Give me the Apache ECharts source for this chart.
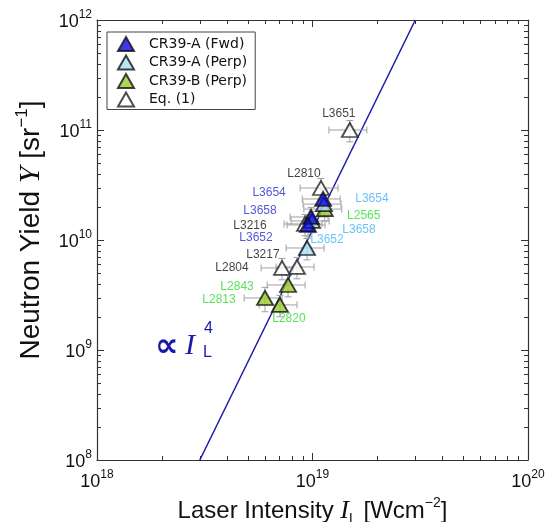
<!DOCTYPE html>
<html><head><meta charset="utf-8">
<script src="https://cdn.jsdelivr.net/npm/echarts@6/dist/echarts.min.js"></script>
<style>html,body{margin:0;padding:0;background:#fff}#c{width:551px;height:522px}</style>
</head><body><div id="c"></div>
<script>
// ---- data ----
const fwdNames = ['L3654','L3658','L3652'];
const fwdI = [1.12e19, 9.84e18, 9.53e18];
const fwdY = [2.36e10, 1.62e10, 1.37e10];
const perpANames = ['L3654','L3658','L3652'];
const perpAI = [1.13e19, 9.95e18, 9.43e18];
const perpAY = [2.12e10, 1.49e10, 8.46e9];
const perpBNames = ['L2565','L2843','L2813','L2820'];
const perpBI = [1.14e19, 7.7e18, 6.02e18, 7.06e18];
const perpBY = [1.91e10, 3.9e9, 2.97e9, 2.57e9];
const eqNames = ['L3651','L2810','L3216','L3217','L2804'];
const eqI = [1.49e19, 1.095e19, 9.23e18, 8.47e18, 7.22e18];
const eqY = [1.0e11, 2.97e10, 1.40e10, 5.69e9, 5.57e9];
// relative uncertainties (fraction)
const fwdXErr = [0.2,0.2,0.2], fwdYErr = [0.22,0.22,0.22];
const perpAXErr = [0.2,0.2,0.2], perpAYErr = [0.22,0.22,0.22];
const perpBXErr = [0.2,0.2,0.2,0.2], perpBYErr = [0.22,0.22,0.25,0.22];
const eqXErr = [0.2,0.2,0.2,0.2,0.2], eqYErr = [0.22,0.22,0.22,0.22,0.22];
// fit line Y ∝ I^4 endpoints
const fitI = [3.0e18, 3.0e19];
const fitY = [1e8, 1e12];
const seriesNames = ['CR39-A (Fwd)','CR39-A (Perp)','CR39-B (Perp)','Eq. (1)'];
const xTicks = [1e18, 1e19, 1e20];
const yTicks = [1e8, 1e9, 1e10, 1e11, 1e12];

// ---- styles / layout ----
const labelOffsets = {
  fwd: [[-54,-6],[-51,-6],[-52,13]],
  perpA: [[48,-5],[47,9],[20,-8]],
  perpB: [[39,7],[-51,2],[-46,2],[9,14]],
  eq: [[-11,-16],[-17,-14],[-55,2],[-34,-12],[-50,0]]
};
const FONT = 'Liberation Sans';
const chart = echarts.init(document.getElementById('c'), null, {renderer:'canvas'});

function pts(I, Y, names, offs, color) {
  return I.map((v,i)=>({value:[v, Y[i]], name:names[i],
    label:{show:true, formatter:names[i], position:'inside', offset:offs[i], color:color,
      fontSize:12, fontFamily:'Liberation Sans'}}));
}
function errData(I, Y, xe, ye) {
  return I.map((v,i)=>[v, Y[i], v*(1-xe[i]), v*(1+xe[i]), Y[i]*(1-ye[i]), Y[i]*(1+ye[i])]);
}
function errRender(params, api) {
  const c = api.coord([api.value(0), api.value(1)]);
  const xl = api.coord([api.value(2), api.value(1)])[0];
  const xh = api.coord([api.value(3), api.value(1)])[0];
  const yl = api.coord([api.value(0), api.value(4)])[1];
  const yh = api.coord([api.value(0), api.value(5)])[1];
  const st = {stroke:'#a0a0a0', lineWidth:1};
  const cap = 3.5;
  return {type:'group', children:[
    {type:'line', shape:{x1:xl,y1:c[1],x2:xh,y2:c[1]}, style:st},
    {type:'line', shape:{x1:xl,y1:c[1]-cap,x2:xl,y2:c[1]+cap}, style:st},
    {type:'line', shape:{x1:xh,y1:c[1]-cap,x2:xh,y2:c[1]+cap}, style:st},
    {type:'line', shape:{x1:c[0],y1:yl,x2:c[0],y2:yh}, style:st},
    {type:'line', shape:{x1:c[0]-cap,y1:yl,x2:c[0]+cap,y2:yl}, style:st},
    {type:'line', shape:{x1:c[0]-cap,y1:yh,x2:c[0]+cap,y2:yh}, style:st}
  ]};
}
// minor ticks (2..9 per decade)
const minorX = [], minorY = [];
for (let d=0; d<xTicks.length-1; d++) for (let m=2;m<=9;m++) minorX.push([xTicks[d]*m, yTicks[0]]);
for (let d=0; d<yTicks.length-1; d++) for (let m=2;m<=9;m++) minorY.push([xTicks[0], yTicks[d]*m]);
const minorData = minorX.map(p=>[p[0],p[1],0]).concat(minorY.map(p=>[p[0],p[1],1]));
function minorRender(params, api) {
  const cs = params.coordSys;
  const p = api.coord([api.value(0), api.value(1)]);
  const L = 4, st = {stroke:'#333', lineWidth:1};
  if (api.value(2) === 0) {
    const x = Math.round(p[0])+0.5;
    return {type:'group', children:[
      {type:'line', shape:{x1:x,y1:cs.y+cs.height,x2:x,y2:cs.y+cs.height-L}, style:st},
      {type:'line', shape:{x1:x,y1:cs.y,x2:x,y2:cs.y+L}, style:st}]};
  } else {
    const y = Math.round(p[1])+0.5;
    return {type:'group', children:[
      {type:'line', shape:{x1:cs.x,y1:y,x2:cs.x+L,y2:y}, style:st},
      {type:'line', shape:{x1:cs.x+cs.width,y1:y,x2:cs.x+cs.width-L,y2:y}, style:st}]};
  }
}
const supFmt = v => '{b|10}{s|' + Math.round(Math.log10(v)) + '}';
const tickRich = {b:{fontSize:18, fontFamily:FONT, color:'#111', lineHeight:22, verticalAlign:'bottom'},
                  s:{fontSize:12, fontFamily:FONT, color:'#111', lineHeight:22, verticalAlign:'top'}};
const axisCommon = {type:'log', logBase:10,
  axisLine:{show:true, onZero:false, lineStyle:{color:'#333', width:1.2}},
  axisTick:{show:true, inside:true, length:7, lineStyle:{color:'#333'}},
  splitLine:{show:false}, minorTick:{show:false}};
const mk = (color, border) => ({color:color, borderColor:border, borderWidth:1.8});
function titleRich(fs) {
  const lh = Math.round(fs*1.25);
  return {
    t:{fontSize:fs, fontFamily:FONT, color:'#111', lineHeight:lh, verticalAlign:'middle'},
    i:{fontSize:fs+2, fontFamily:'Liberation Serif', fontStyle:'italic', color:'#111', lineHeight:lh, verticalAlign:'middle'},
    sub:{fontSize:Math.round(fs*0.58), fontFamily:FONT, color:'#111', lineHeight:lh, verticalAlign:'bottom'},
    s:{fontSize:Math.round(fs*0.6), fontFamily:FONT, color:'#111', lineHeight:lh, verticalAlign:'top'}};
}

const option = {
  animation:false,
  backgroundColor:'#fff',
  grid:{left:97, right:23, top:20, bottom:62, containLabel:false, outerBoundsMode:'none'},
  legend:{
    data:seriesNames, orient:'vertical', left:107, top:32,
    backgroundColor:'#fff', borderColor:'#444', borderWidth:1, borderRadius:0,
    padding:[4,8,2,10], itemWidth:16, itemHeight:14, itemGap:2.5,
    textStyle:{fontSize:14, lineHeight:14, fontFamily:'DejaVu Sans', color:'#111', padding:[0,0,0,10]},
    selectedMode:false
  },
  xAxis:[
    Object.assign({}, axisCommon, {min:1e18, max:1e20, interval:1, position:'bottom',
      axisLabel:{formatter:supFmt, margin:9, rich:tickRich},
      name:'{t|Laser Intensity }{i|I}{sub|L}{t| [Wcm}{s|−2}{t|]}', nameLocation:'middle', nameGap:31,
      nameTextStyle:{rich:titleRich(24)}}),
    Object.assign({}, axisCommon, {min:1e18, max:1e20, interval:1, position:'top',
      axisLabel:{show:false}})
  ],
  yAxis:[
    Object.assign({}, axisCommon, {min:1e8, max:1e12, interval:1, position:'left',
      axisLabel:{formatter:supFmt, margin:5, rich:tickRich},
      name:'{t|Neutron Yield }{i|Y}{t| [sr}{s|−1}{t|]}', nameLocation:'middle', nameGap:48, nameRotate:90,
      nameTextStyle:{padding:[0,0,0,20], rich:titleRich(28)}}),
    Object.assign({}, axisCommon, {min:1e8, max:1e12, interval:1, position:'right',
      axisLabel:{show:false}})
  ],
  series:[
    {type:'custom', renderItem:minorRender, data:minorData, silent:true, z:1,
      encode:{x:0, y:1}, clip:false},
    {type:'line', data:fitI.map((v,i)=>[v, fitY[i]]), symbol:'none', silent:true, z:2,
      lineStyle:{color:'#1c1ca8', width:1.5}},
    {type:'custom', renderItem:errRender, data:errData(eqI,eqY,eqXErr,eqYErr), z:3, silent:true, encode:{x:0,y:1}},
    {type:'custom', renderItem:errRender, data:errData(perpBI,perpBY,perpBXErr,perpBYErr), z:3, silent:true, encode:{x:0,y:1}},
    {type:'custom', renderItem:errRender, data:errData(perpAI,perpAY,perpAXErr,perpAYErr), z:3, silent:true, encode:{x:0,y:1}},
    {type:'custom', renderItem:errRender, data:errData(fwdI,fwdY,fwdXErr,fwdYErr), z:3, silent:true, encode:{x:0,y:1}},
    {name:seriesNames[3], type:'scatter', symbol:'triangle', symbolSize:[16,14], z:4,
      itemStyle:mk('#ffffff','#222'), data:pts(eqI,eqY,eqNames,labelOffsets.eq,'#111')},
    {name:seriesNames[2], type:'scatter', symbol:'triangle', symbolSize:[16,14], z:5,
      itemStyle:mk('#9ccc2e','#111'), data:pts(perpBI,perpBY,perpBNames,labelOffsets.perpB,'#2fd82f')},
    {name:seriesNames[1], type:'scatter', symbol:'triangle', symbolSize:[16,14], z:6,
      itemStyle:mk('#a9def2','#111'), data:pts(perpAI,perpAY,perpANames,labelOffsets.perpA,'#45b4f5')},
    {name:seriesNames[0], type:'scatter', symbol:'triangle', symbolSize:[16,14], z:7,
      itemStyle:mk('#0a0ae0','#111'), data:pts(fwdI,fwdY,fwdNames,labelOffsets.fwd,'#2a2ad0')}
  ],
  graphic:[
    {type:'text', left:155, top:331, style:{text:'∝', fontSize:33, fontWeight:'bold', fontFamily:'DejaVu Sans', fill:'#1a1aa8'}},
    {type:'text', left:185, top:331, style:{text:'I', fontSize:30, fontFamily:'Liberation Serif', fontStyle:'italic', fill:'#1a1aa8'}},
    {type:'text', left:204, top:321, style:{text:'4', fontSize:16, fontFamily:'Liberation Sans', fill:'#1a1aa8'}},
    {type:'text', left:203, top:345, style:{text:'L', fontSize:16, fontFamily:'Liberation Sans', fill:'#1a1aa8'}}
  ]
};
chart.setOption(option);
</script>
</body></html>
